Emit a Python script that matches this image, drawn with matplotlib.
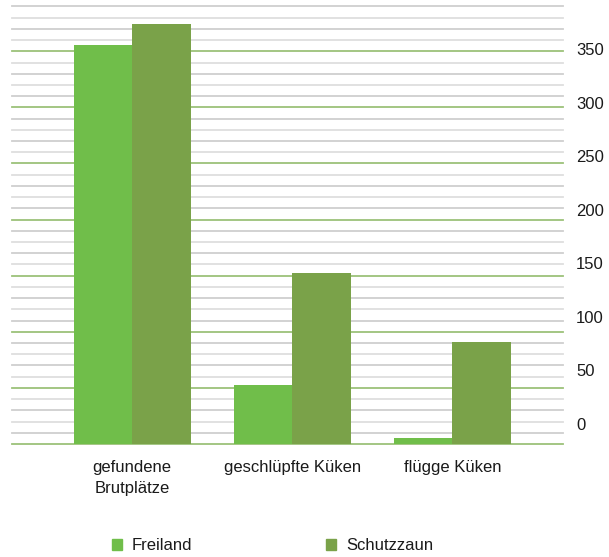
import numpy as np
import matplotlib
matplotlib.use("Agg")
import matplotlib.pyplot as plt
from matplotlib.patches import Patch

plt.rcParams['font.family'] = ['Liberation Sans', 'DejaVu Sans']

# Daten
kategorien = ["gefundene\nBrutplätze", "geschlüpfte Küken", "flügge Küken"]
freiland = [356, 53, 5]
schutzzaun = [374, 152, 91]
achsen_werte = [0, 50, 100, 150, 200, 250, 300, 350]

farbe_freiland = "#70BE4A"
farbe_schutz = "#7AA249"

fig = plt.figure(figsize=(6.09, 5.57), dpi=100)
# Plotbereich in Pixeln: x 12..563, y 6..444 (von oben)
ax = fig.add_axes([12 / 609, (557 - 444) / 557, (563 - 12) / 609, (444 - 6.4) / 557])

x = np.arange(len(kategorien))
breite = 0.365
ax.bar(x - breite / 2, freiland, breite, color=farbe_freiland, zorder=3, label="Freiland")
ax.bar(x + breite / 2, schutzzaun, breite, color=farbe_schutz, zorder=3, label="Schutzzaun")

ax.set_xlim(-0.75, 2.69)
ax.set_ylim(0, 390)

# Gitternetz: grau alle 10, grün alle 50
for i, v in enumerate(range(0, 391, 10)):
    if v % 50 == 0:
        ax.axhline(v, color="#9cc27a", lw=1.3, zorder=1, clip_on=False)
    else:
        ax.axhline(v, color="#cfcfcf" if i % 2 else "#dedede", lw=1.3, zorder=1, clip_on=False)

for s in ax.spines.values():
    s.set_visible(False)
ax.set_yticks([])
ax.set_xticks(x)
ax.set_xticklabels(kategorien, fontsize=12, color="#1a1a1a", linespacing=1.5)
ax.tick_params(axis="x", length=0, pad=11.5)

# Beschriftung der Werteachse rechts
ax2 = ax.twinx()
ax2.set_ylim(-18.7, 389.8)
ax2.set_yticks(achsen_werte)
ax2.set_yticklabels([str(v) for v in achsen_werte], fontsize=12, color="#1a1a1a")
ax2.tick_params(axis="y", length=0, pad=9.5)
for s in ax2.spines.values():
    s.set_visible(False)

handles = [Patch(color=farbe_freiland), Patch(color=farbe_schutz)]
fig.legend(handles, ["Freiland", "Schutzzaun"], ncol=2, frameon=False,
           loc="center left", bbox_to_anchor=(112 / 609, 1 - 546 / 557),
           borderpad=0, borderaxespad=0, fontsize=12,
           handlelength=0.6, handleheight=0.6, handletextpad=0.6,
           columnspacing=8.0, labelcolor="#1a1a1a")

fig.savefig("out.png", dpi=100)
